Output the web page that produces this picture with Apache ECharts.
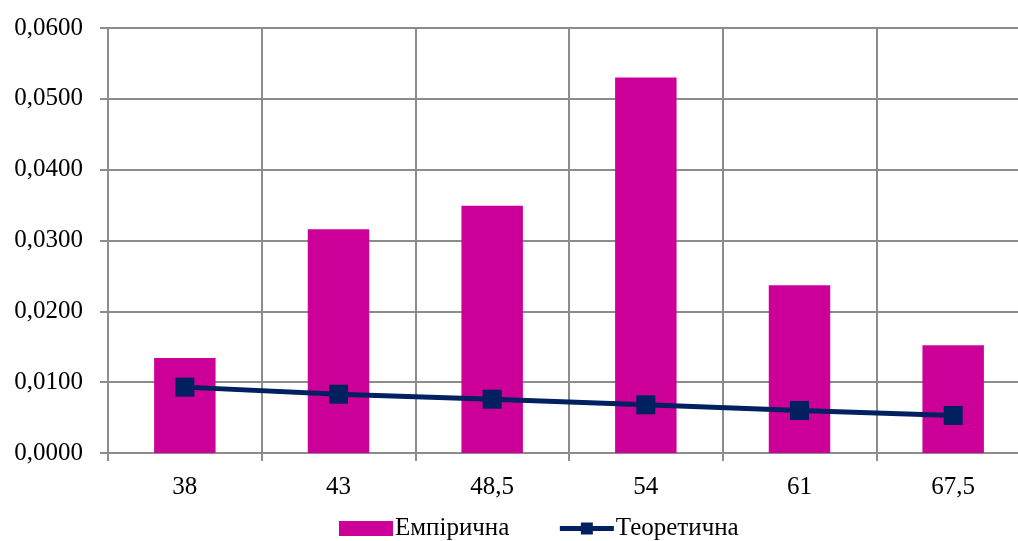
<!DOCTYPE html>
<html><head><meta charset="utf-8">
<script src="https://cdn.jsdelivr.net/npm/echarts@6/dist/echarts.min.js"></script>
<style>html,body{margin:0;padding:0;background:#fff;overflow:hidden}#c{width:1031px;height:541px}</style>
</head><body><div id="c"></div>
<script>
const categories = ['38', '43', '48,5', '54', '61', '67,5'];
const empirical = [0.0134, 0.0316, 0.0349, 0.0530, 0.0237, 0.0152];
const theoretical = [0.0093, 0.0083, 0.0076, 0.0068, 0.0060, 0.0053];
const seriesNames = ['Емпірична', 'Теоретична'];

const font = 'Liberation Serif, Times New Roman, serif';
const gridColor = '#8c8c8c';
const navy = '#002060';
const chart = echarts.init(document.getElementById('c'), null, {renderer: 'canvas'});
chart.setOption({
  animation: false,
  textStyle: {fontFamily: font},
  grid: {left: 108, top: 28, right: 1, height: 425, containLabel: false},
  legend: {
    left: 334, top: 511,
    itemWidth: 54, itemHeight: 15, itemGap: 48,
    textStyle: {fontFamily: font, fontSize: 25, color: '#000', padding: [0,0,0,-3]},
    data: [
      {name: seriesNames[0], icon: 'rect'},
      {name: seriesNames[1], lineStyle: {width: 5, color: navy}}
    ]
  },
  xAxis: {
    type: 'category', data: categories, boundaryGap: true,
    axisLine: {show: true, lineStyle: {color: gridColor, width: 2}},
    axisTick: {show: true, length: 8, lineStyle: {color: gridColor, width: 2}},
    splitLine: {show: true, lineStyle: {color: gridColor, width: 2}},
    axisLabel: {fontFamily: font, fontSize: 25, color: '#000', margin: 22}
  },
  yAxis: {
    type: 'value', min: 0, max: 0.06, interval: 0.01,
    axisLine: {show: true, lineStyle: {color: gridColor, width: 2}},
    axisTick: {show: true, length: 8, lineStyle: {color: gridColor, width: 2}},
    splitLine: {show: true, lineStyle: {color: gridColor, width: 2}},
    axisLabel: {fontFamily: font, fontSize: 25, color: '#000', margin: 25,
      formatter: v => v.toFixed(4).replace('.', ',')}
  },
  series: [
    {name: seriesNames[0], type: 'bar', data: empirical, barWidth: '40%',
     itemStyle: {color: '#CC0099'}},
    {name: seriesNames[1], type: 'line', data: theoretical,
     symbol: 'rect', symbolSize: 19,
     lineStyle: {color: navy, width: 5},
     itemStyle: {color: navy}}
  ]
});
</script></body></html>
